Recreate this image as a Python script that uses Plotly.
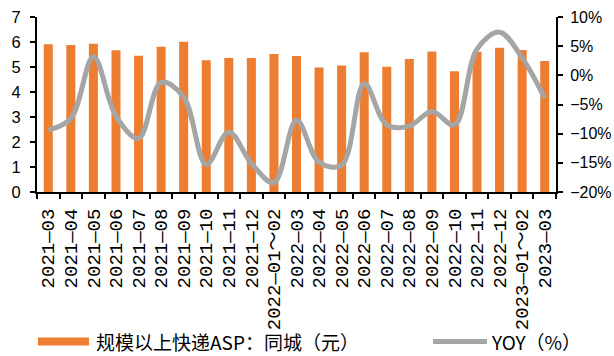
import plotly.graph_objects as go

# Monthly categories
categories = [
    "2021-03", "2021-04", "2021-05", "2021-06", "2021-07", "2021-08",
    "2021-09", "2021-10", "2021-11", "2021-12", "2022-01～02", "2022-03",
    "2022-04", "2022-05", "2022-06", "2022-07", "2022-08", "2022-09",
    "2022-10", "2022-11", "2022-12", "2023-01～02", "2023-03",
]

# Average selling price of same-city express delivery (yuan)
asp_values = [
    5.91, 5.88, 5.93, 5.67, 5.45, 5.81, 6.01, 5.27, 5.36, 5.36, 5.52, 5.44,
    4.98, 5.06, 5.59, 5.01, 5.32, 5.62, 4.83, 5.61, 5.77, 5.68, 5.24,
]

# Year-over-year change (%)
yoy_values = [
    -9.4, -7.4, 3.2, -7.0, -10.8, -1.2, -3.7, -15.3, -9.7, -15.1, -18.4, -7.7,
    -14.9, -15.4, -1.4, -8.5, -8.7, -6.2, -8.5, 4.5, 7.4, 3.0, -3.9,
]

asp_name = "规模以上快递ASP：同城（元）"
yoy_name = "YOY（%）"

left_ticks = list(range(0, 8))
right_ticks = [-20, -15, -10, -5, 0, 5, 10]
right_tick_text = [f"{v}%".replace("-", "\u2212") for v in right_ticks]

BAR_COLOR = "#ED7D31"
LINE_COLOR = "#A5A5A5"

W, H = 614, 356
ML, MR, MT, MB = 37, 58, 17, 164
PW, PH = W - ML - MR, H - MT - MB


def px_x(px):
    return (px - ML) / PW


def px_y(py):
    return (H - MB - py) / PH


tick_text = [c.replace("-", "—") for c in categories]

fig = go.Figure()
fig.add_trace(go.Bar(
    x=categories, y=asp_values, name=asp_name,
    marker=dict(color=BAR_COLOR, line=dict(width=0)),
    yaxis="y", showlegend=False,
))
fig.add_trace(go.Scatter(
    x=categories, y=yoy_values, name=yoy_name, mode="lines",
    line=dict(color=LINE_COLOR, width=5, shape="spline", smoothing=1.0),
    yaxis="y2", showlegend=False,
))

axis_font = dict(family="Liberation Sans, Arial, sans-serif", size=16, color="#000000")

fig.update_layout(
    width=W, height=H,
    margin=dict(l=ML, r=MR, t=MT, b=MB, pad=0, autoexpand=False),
    paper_bgcolor="white", plot_bgcolor="white",
    bargap=0.6,
    xaxis=dict(
        type="category",
        tickvals=categories, ticktext=tick_text,
        tickangle=-90,
        tickfont=dict(family="Liberation Mono, Noto Sans CJK SC", size=19, color="#000000"),
        ticks="outside", ticklen=5, tickwidth=2, tickcolor="#000000",
        tickson="boundaries",
        showline=True, linecolor="#000000", linewidth=2,
        showgrid=False, zeroline=False,
        ticklabelstandoff=7, automargin=False,
    ),
    yaxis=dict(
        range=[0, 7], tickvals=left_ticks,
        tickfont=dict(axis_font, size=16.5),
        ticks="outside", ticklen=5, tickwidth=2, tickcolor="#000000",
        showline=True, linecolor="#000000", linewidth=2,
        showgrid=False, zeroline=False,
        ticklabelstandoff=6, automargin=False,
    ),
    yaxis2=dict(
        range=[-20, 10], tickvals=right_ticks, ticktext=right_tick_text,
        overlaying="y", side="right",
        tickfont=axis_font,
        ticks="outside", ticklen=5, tickwidth=2, tickcolor="#000000",
        showline=True, linecolor="#000000", linewidth=2,
        showgrid=False, zeroline=False,
        ticklabelstandoff=4, automargin=False,
    ),
)

# Legend drawn below the axis labels
legend_y = 341.5
fig.add_shape(
    type="rect", xref="paper", yref="paper",
    x0=px_x(38), x1=px_x(89), y0=px_y(legend_y + 4), y1=px_y(legend_y - 4),
    fillcolor=BAR_COLOR, line=dict(width=0),
)
fig.add_shape(
    type="line", xref="paper", yref="paper",
    x0=px_x(433), x1=px_x(487), y0=px_y(legend_y), y1=px_y(legend_y),
    line=dict(color=LINE_COLOR, width=5),
)
legend_font = dict(family="Noto Sans CJK SC", size=19, color="#000000")
fig.add_annotation(
    text=asp_name, xref="paper", yref="paper",
    x=px_x(94), y=px_y(legend_y), xanchor="left", yanchor="middle",
    showarrow=False, font=legend_font,
)
fig.add_annotation(
    text=yoy_name, xref="paper", yref="paper",
    x=px_x(489), y=px_y(legend_y), xanchor="left", yanchor="middle",
    showarrow=False, font=legend_font,
)

fig.write_html("out.html")
